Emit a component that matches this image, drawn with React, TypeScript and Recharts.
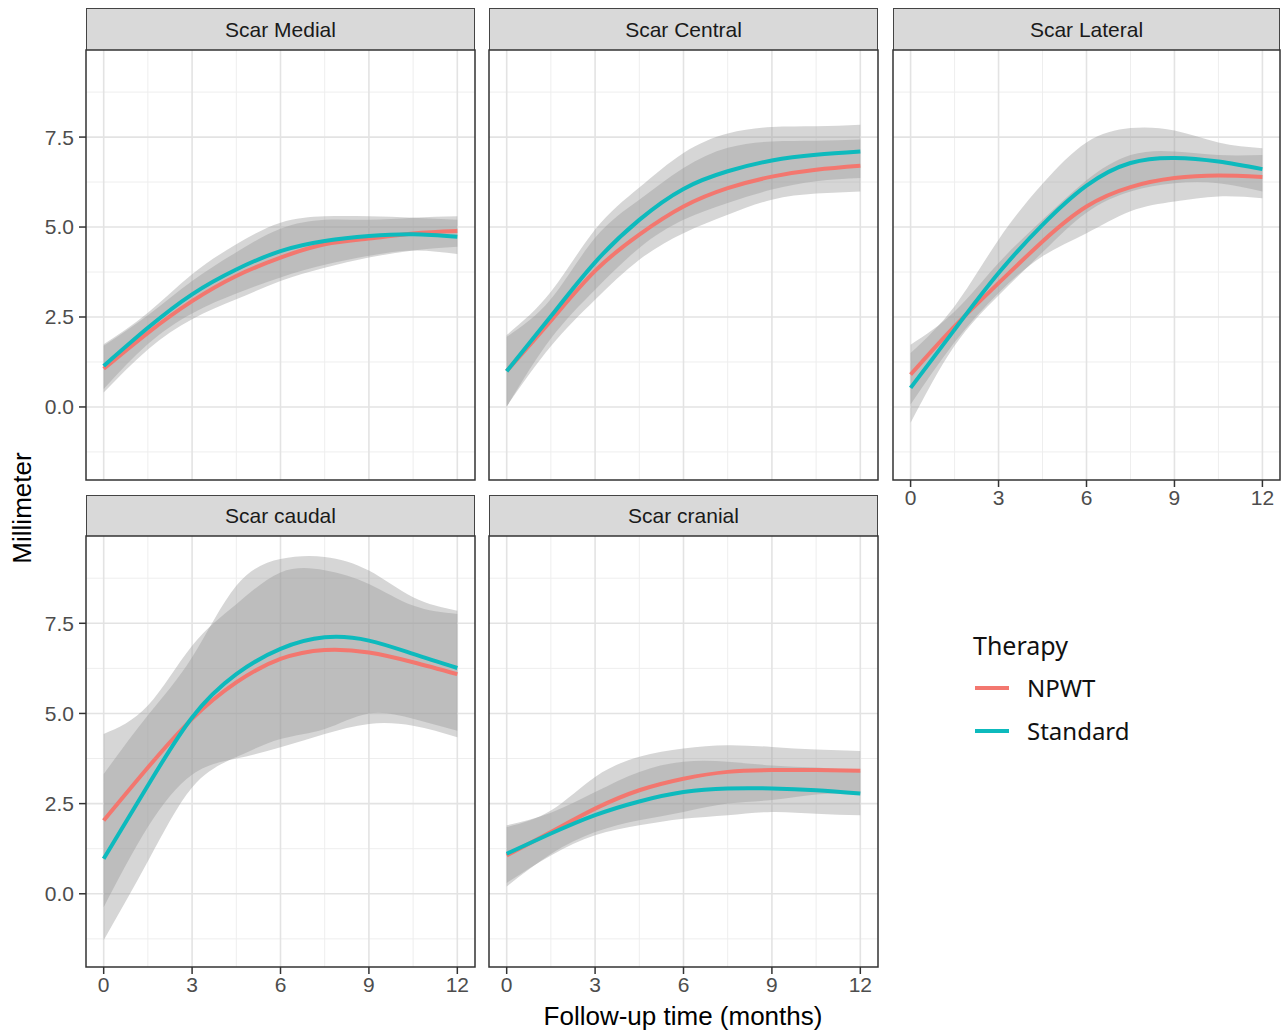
import React from "react";
import {
  ComposedChart,
  Area,
  Line,
  XAxis,
  YAxis,
  CartesianGrid,
  ReferenceArea,
} from "recharts";

const months = [0, 1.5, 3, 4.5, 6, 7.5, 9, 10.5, 12];

// Scar Medial
const medialNpwt = [1.06, 2.06, 2.94, 3.64, 4.15, 4.52, 4.68, 4.82, 4.89];
const medialNpwtLo = [0.4, 1.6, 2.44, 2.99, 3.5, 3.87, 4.15, 4.35, 4.45];
const medialNpwtHi = [1.7, 2.55, 3.5, 4.3, 4.95, 5.2, 5.2, 5.26, 5.3];
const medialStd = [1.14, 2.2, 3.13, 3.82, 4.33, 4.61, 4.75, 4.8, 4.73];
const medialStdLo = [0.5, 1.75, 2.6, 3.15, 3.6, 3.95, 4.2, 4.35, 4.25];
const medialStdHi = [1.74, 2.62, 3.69, 4.52, 5.12, 5.3, 5.3, 5.26, 5.2];

// Scar Central
const centralNpwt = [1.0, 2.4, 3.78, 4.79, 5.57, 6.08, 6.4, 6.59, 6.7];
const centralNpwtLo = [0.02, 1.69, 2.98, 4.09, 4.83, 5.34, 5.76, 5.93, 5.99];
const centralNpwtHi = [1.95, 3.0, 4.7, 5.76, 6.64, 7.2, 7.38, 7.4, 7.43];
const centralStd = [0.99, 2.52, 4.02, 5.2, 6.06, 6.55, 6.85, 7.01, 7.1];
const centralStdLo = [0.0, 1.9, 3.26, 4.42, 5.2, 5.67, 6.04, 6.27, 6.36];
const centralStdHi = [2.0, 3.2, 4.93, 6.1, 7.06, 7.6, 7.78, 7.8, 7.84];

// Scar Lateral
const lateralNpwt = [0.9, 2.24, 3.44, 4.6, 5.57, 6.11, 6.36, 6.43, 6.39];
const lateralNpwtLo = [0.07, 1.8, 3.17, 4.19, 4.83, 5.44, 5.71, 5.85, 5.8];
const lateralNpwtHi = [1.73, 2.65, 4.0, 5.2, 6.3, 7.0, 7.1, 7.0, 7.0];
const lateralStd = [0.53, 2.15, 3.72, 5.06, 6.15, 6.78, 6.92, 6.82, 6.61];
const lateralStdLo = [-0.44, 1.7, 3.1, 4.3, 5.4, 5.99, 6.22, 6.22, 5.99];
const lateralStdHi = [1.5, 2.8, 4.65, 6.2, 7.35, 7.75, 7.68, 7.35, 7.19];

// Scar caudal
const caudalNpwt = [2.03, 3.5, 4.85, 5.86, 6.51, 6.76, 6.69, 6.42, 6.09];
const caudalNpwtLo = [-0.37, 1.85, 3.3, 3.75, 4.06, 4.43, 4.71, 4.66, 4.34];
const caudalNpwtHi = [4.43, 5.22, 6.88, 8.03, 8.91, 8.97, 8.59, 7.99, 7.76];
const caudalStd = [0.97, 3.0, 4.89, 6.09, 6.79, 7.11, 7.02, 6.65, 6.26];
const caudalStdLo = [-1.29, 0.9, 2.95, 3.79, 4.29, 4.57, 5.0, 4.85, 4.52];
const caudalStdHi = [3.32, 4.95, 6.56, 8.54, 9.28, 9.34, 8.96, 8.22, 7.85];

// Scar cranial
const cranialNpwt = [1.06, 1.71, 2.36, 2.87, 3.19, 3.38, 3.43, 3.43, 3.41];
const cranialNpwtLo = [0.2, 1.1, 1.71, 2.04, 2.27, 2.5, 2.6, 2.75, 2.78];
const cranialNpwtHi = [1.85, 2.31, 3.24, 3.8, 4.03, 4.12, 4.07, 4.0, 3.96];
const cranialStd = [1.11, 1.67, 2.18, 2.56, 2.82, 2.92, 2.92, 2.87, 2.78];
const cranialStdLo = [0.3, 1.06, 1.62, 1.9, 2.08, 2.18, 2.27, 2.22, 2.18];
const cranialStdHi = [1.9, 2.25, 2.82, 3.38, 3.66, 3.66, 3.56, 3.5, 3.4];

const xTicks = [0, 3, 6, 9, 12];
const xMinor = [1.5, 4.5, 7.5, 10.5];
const yTicks = [0, 2.5, 5, 7.5];
const yMinor = [-1.25, 1.25, 3.75, 6.25, 8.75];
const X_DOMAIN: [number, number] = [-0.6, 12.6];
const Y_DOMAIN: [number, number] = [-2.03, 9.92];

const NPWT_COLOR = "#F3776F";
const STD_COLOR = "#0DBABD";
const SANS = '"Liberation Sans", Arial, Helvetica, sans-serif';

function buildRows(
  n: number[],
  nLo: number[],
  nHi: number[],
  s: number[],
  sLo: number[],
  sHi: number[]
) {
  return months.map((m, i) => ({
    month: m,
    npwt: n[i],
    npwtBand: [nLo[i], nHi[i]],
    std: s[i],
    stdBand: [sLo[i], sHi[i]],
  }));
}

const panels = [
  {
    title: "Scar Medial",
    rows: buildRows(medialNpwt, medialNpwtLo, medialNpwtHi, medialStd, medialStdLo, medialStdHi),
    left: 86, right: 475, top: 50, bottom: 480, stripTop: 8, showY: true, showX: false,
  },
  {
    title: "Scar Central",
    rows: buildRows(centralNpwt, centralNpwtLo, centralNpwtHi, centralStd, centralStdLo, centralStdHi),
    left: 489, right: 878, top: 50, bottom: 480, stripTop: 8, showY: false, showX: false,
  },
  {
    title: "Scar Lateral",
    rows: buildRows(lateralNpwt, lateralNpwtLo, lateralNpwtHi, lateralStd, lateralStdLo, lateralStdHi),
    left: 893, right: 1280, top: 50, bottom: 480, stripTop: 8, showY: false, showX: true,
  },
  {
    title: "Scar caudal",
    rows: buildRows(caudalNpwt, caudalNpwtLo, caudalNpwtHi, caudalStd, caudalStdLo, caudalStdHi),
    left: 86, right: 475, top: 536, bottom: 967, stripTop: 495, showY: true, showX: true,
  },
  {
    title: "Scar cranial",
    rows: buildRows(cranialNpwt, cranialNpwtLo, cranialNpwtHi, cranialStd, cranialStdLo, cranialStdHi),
    left: 489, right: 878, top: 536, bottom: 967, stripTop: 495, showY: false, showX: true,
  },
];

const YW = 70;
const XH = 40;
const M = 3;

const tickStyle = { fill: "#4d4d4d", fontSize: 21, fontFamily: SANS };
const tickLineStyle = { stroke: "#333333", strokeWidth: 1.5 };

function Panel({ p }: { p: (typeof panels)[number] }) {
  const w = p.right - p.left + (p.showY ? YW : 0) + 2 * M;
  const h = p.bottom - p.top + (p.showX ? XH : 0) + 2 * M;
  return (
    <>
      <div
        style={{
          position: "absolute",
          left: p.left,
          top: p.stripTop,
          width: p.right - p.left,
          height: p.top - p.stripTop,
          boxSizing: "border-box",
          background: "#d9d9d9",
          border: "1.3px solid #444",
          borderBottom: "none",
          display: "flex",
          alignItems: "center",
          justifyContent: "center",
          fontFamily: SANS,
          fontSize: 21,
          color: "#1a1a1a",
        }}
      >
        {p.title}
      </div>
      <div
        style={{
          position: "absolute",
          left: p.left - (p.showY ? YW : 0) - M,
          top: p.top - M,
        }}
      >
        <ComposedChart
          width={w}
          height={h}
          data={p.rows}
          margin={{ top: M, right: M, bottom: M, left: M }}
        >
          <CartesianGrid
            verticalValues={xMinor}
            horizontalValues={yMinor}
            stroke="#eeeeee"
            strokeWidth={1}
          />
          <CartesianGrid
            verticalValues={xTicks}
            horizontalValues={yTicks}
            stroke="#e3e3e3"
            strokeWidth={1.6}
          />
          <XAxis
            dataKey="month"
            type="number"
            domain={X_DOMAIN}
            ticks={xTicks}
            interval={0}
            allowDataOverflow
            hide={!p.showX}
            height={XH}
            axisLine={false}
            tickLine={tickLineStyle}
            tickSize={7}
            tickMargin={3}
            tick={tickStyle}
          />
          <YAxis
            type="number"
            domain={Y_DOMAIN}
            ticks={yTicks}
            interval={0}
            allowDataOverflow
            hide={!p.showY}
            width={YW}
            axisLine={false}
            tickLine={tickLineStyle}
            tickSize={7}
            tickMargin={5}
            tick={tickStyle}
            tickFormatter={(v: number) => v.toFixed(1)}
          />
          <Area
            dataKey="npwtBand"
            type="natural"
            stroke="none"
            fill="#999999"
            fillOpacity={0.4}
            isAnimationActive={false}
          />
          <Line
            dataKey="npwt"
            type="natural"
            stroke={NPWT_COLOR}
            strokeWidth={4}
            dot={false}
            activeDot={false}
            isAnimationActive={false}
          />
          <Area
            dataKey="stdBand"
            type="natural"
            stroke="none"
            fill="#999999"
            fillOpacity={0.4}
            isAnimationActive={false}
          />
          <Line
            dataKey="std"
            type="natural"
            stroke={STD_COLOR}
            strokeWidth={4}
            dot={false}
            activeDot={false}
            isAnimationActive={false}
          />
          <ReferenceArea
            x1={X_DOMAIN[0]}
            x2={X_DOMAIN[1]}
            y1={Y_DOMAIN[0]}
            y2={Y_DOMAIN[1]}
            fill="none"
            stroke="#333333"
            strokeWidth={1.5}
            ifOverflow="visible"
          />
        </ComposedChart>
      </div>
    </>
  );
}

function LegendKey({ color, label, cy }: { color: string; label: string; cy: number }) {
  return (
    <>
      <svg
        width={40}
        height={10}
        style={{ position: "absolute", left: 973, top: cy - 5 }}
      >
        <line x1={2} y1={5} x2={36} y2={5} stroke={color} strokeWidth={4} />
      </svg>
      <div
        style={{
          position: "absolute",
          left: 1027,
          top: cy - 16,
          lineHeight: "32px",
          fontFamily: '"Noto Sans", "Open Sans", sans-serif',
          fontSize: 24,
          color: "#111",
        }}
      >
        {label}
      </div>
    </>
  );
}

export default function App() {
  return (
    <div
      style={{
        position: "absolute",
        left: 0,
        top: 0,
        width: 1287,
        height: 1031,
        background: "#fff",
        overflow: "hidden",
      }}
    >
      {panels.map((p) => (
        <Panel key={p.title} p={p} />
      ))}
      <div
        style={{
          position: "absolute",
          left: 86,
          width: 1194,
          top: 1000,
          lineHeight: "32px",
          textAlign: "center",
          fontFamily: SANS,
          fontSize: 26,
          color: "#000",
        }}
      >
        Follow-up time (months)
      </div>
      <div
        style={{
          position: "absolute",
          left: 22 - 100,
          top: 508 - 16,
          width: 200,
          lineHeight: "32px",
          textAlign: "center",
          transform: "rotate(-90deg)",
          fontFamily: SANS,
          fontSize: 26,
          color: "#000",
        }}
      >
        Millimeter
      </div>
      <div
        style={{
          position: "absolute",
          left: 973,
          top: 645 - 17,
          lineHeight: "34px",
          fontFamily: '"Noto Sans", "Open Sans", sans-serif',
          fontSize: 25,
          color: "#111",
        }}
      >
        Therapy
      </div>
      <LegendKey color={NPWT_COLOR} label="NPWT" cy={688} />
      <LegendKey color={STD_COLOR} label="Standard" cy={731} />
    </div>
  );
}
